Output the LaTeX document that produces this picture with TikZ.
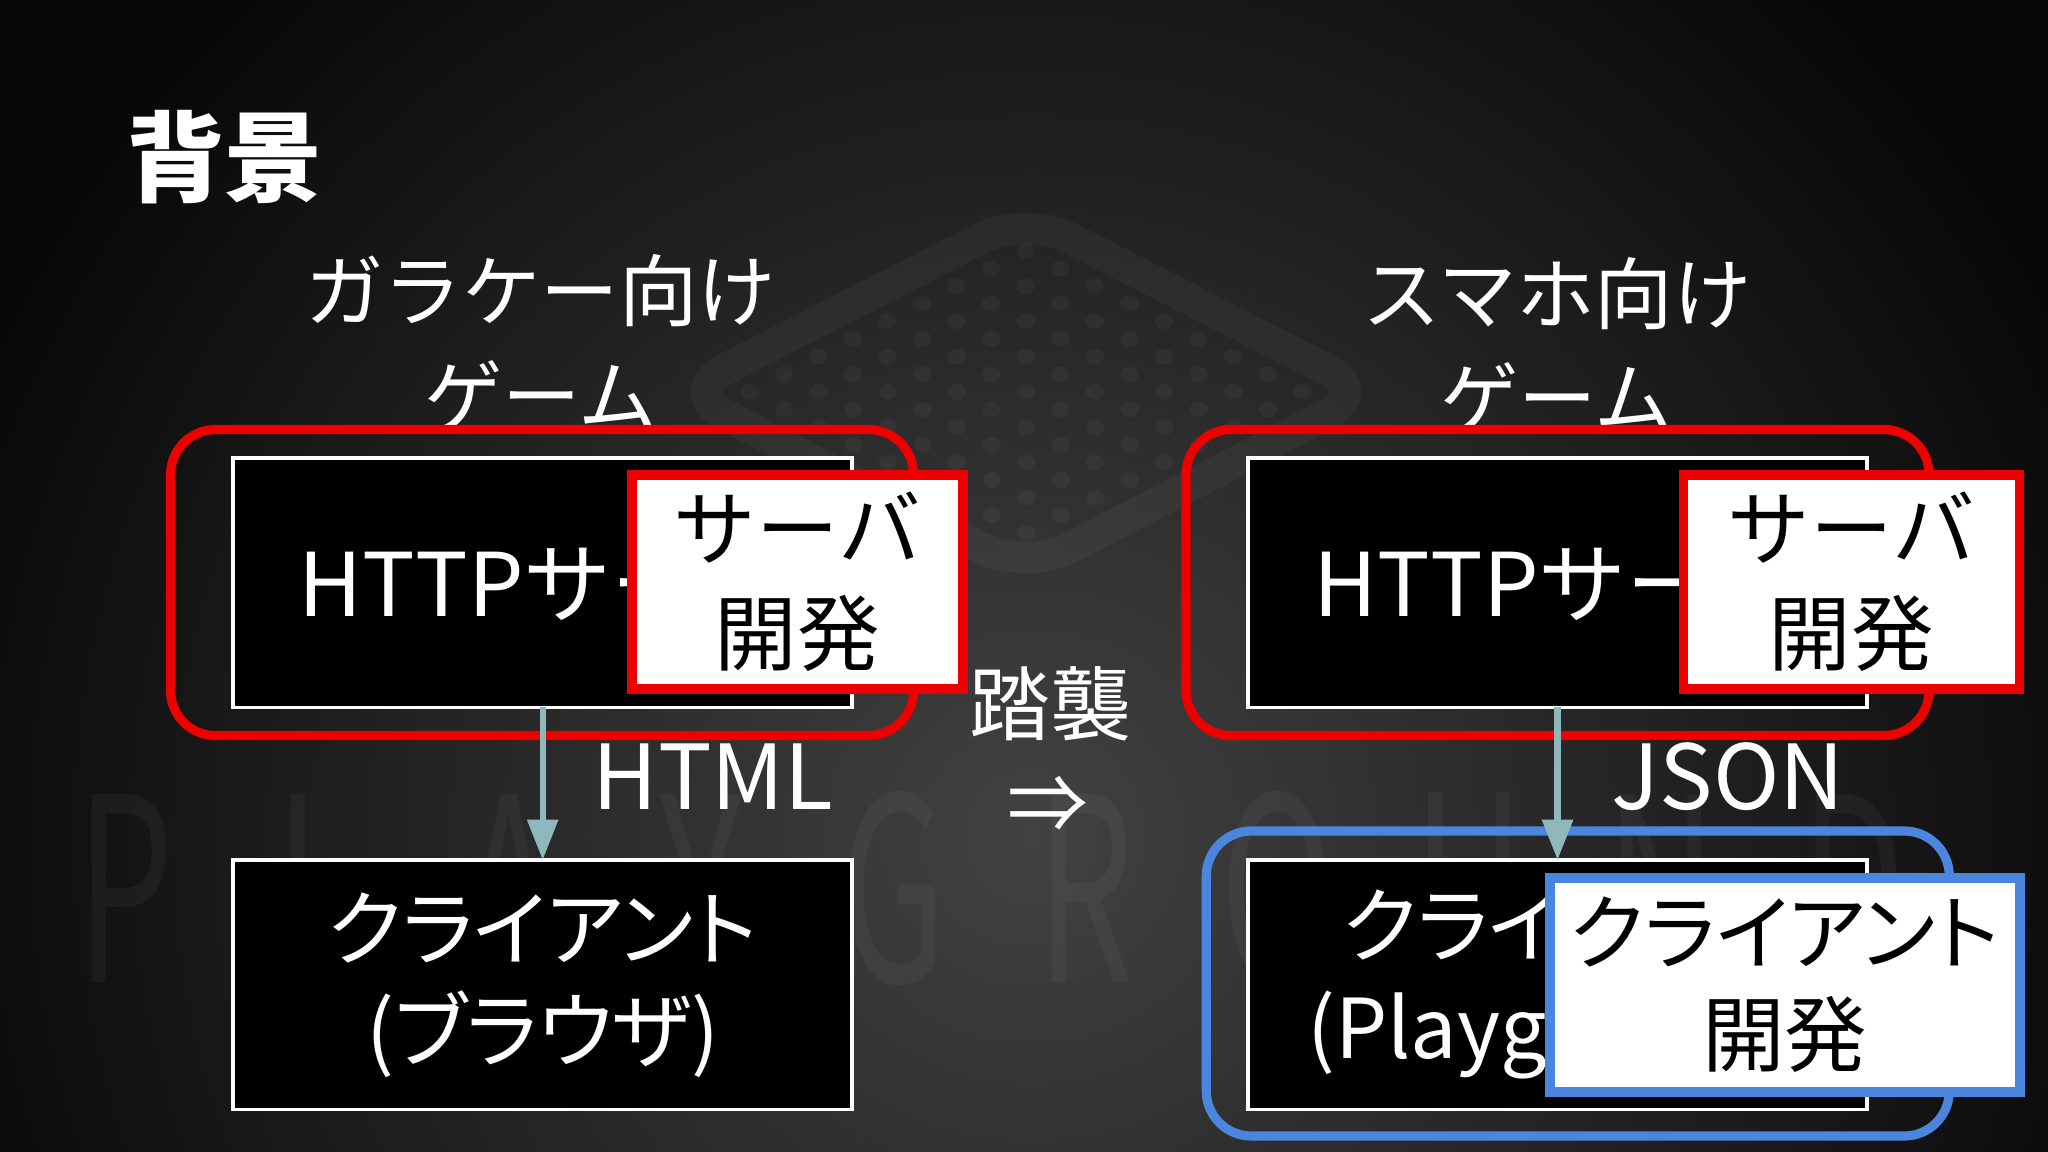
\documentclass[tikz,border=0pt]{standalone}
\usepackage{fontspec}
\setmainfont{Noto Sans CJK JP}
\newfontfamily\jpp{Noto Sans CJK JP}[RawFeature=+palt]
\usetikzlibrary{arrows.meta}
\definecolor{bgdark}{RGB}{8,8,8}
\definecolor{bgmid}{RGB}{66,66,66}
\definecolor{redline}{RGB}{236,0,0}
\definecolor{blueline}{RGB}{74,134,222}
\definecolor{arrowc}{RGB}{143,184,189}
\pgfdeclareradialshading{bgshade}{\pgfpoint{0bp}{0bp}}{color(0bp)=(bgmid); color(25bp)=(bgdark); color(50bp)=(bgdark)}
\begin{document}
\begin{tikzpicture}[x=0.013061cm, y=-0.013061cm,
  every node/.style={inner sep=0pt, outer sep=0pt},
  heading/.style={text=white, font=\fontsize{22.3pt}{29.7pt}\selectfont, align=center},
  titletext/.style={text=white, font=\fontsize{28pt}{32pt}\selectfont\bfseries},
  blackbox/.style={draw=white, fill=black, line width=1pt, minimum width=6.19cm, minimum height=2.495cm, text=white, align=center},
  srvtext/.style={font=\fontsize{25pt}{30pt}\selectfont},
  clitext/.style={font=\jpp\fontsize{23.5pt}{29pt}\selectfont},
  group/.style={draw=#1, line width=2.6pt, rounded corners=0.45cm, minimum width=7.43cm, minimum height=3.06cm},
  devbox/.style={draw=#1, fill=white, line width=2.8pt, text=black, align=center, minimum height=2.14cm},
  flow/.style={draw=arrowc, line width=1.8pt, -{Triangle[length=11.5pt,width=8.5pt]}},
  flowlabel/.style={text=white, font=\fontsize{25.5pt}{30pt}\selectfont},
  midtext/.style={text=white, font=\fontsize{23pt}{28pt}\selectfont},
  wm/.style={text=white, text opacity=0.04, font=\fontsize{73pt}{80pt}\selectfont, xscale=0.6}
]
% background
\fill[bgdark] (0,0) rectangle (1568,882);
\begin{scope}
  \clip (0,0) rectangle (1568,882);
  \shade[shading=bgshade] (790,640) circle (880);
\end{scope}
\useasboundingbox (0,0) rectangle (1568,882);
% watermark logo
\draw[white, opacity=0.035, line width=9pt, rounded corners=0.5cm] (785,165) -- (1050,300) -- (785,437) -- (521,300) -- cycle;
\foreach \s in {1,...,9}{
  \foreach \t in {1,...,9}{
    \fill[white, opacity=0.035] ({785+26.5*\s-26.4*\t},{165+13.5*\s+13.5*\t}) ellipse (7 and 6);
  }
}
\foreach \ch [count=\i from 0] in {P,L,A,Y,G,R,O,U,N,D}{
  \node[wm] (wm\i) at ({96+147*\i},680) {\ch};
}
% title and headings
\node[titletext] (title) at (172,120) {背景};
\node[heading] (headL) at (414,262) {ガラケー向け\\ゲーム};
\node[heading] (headR) at (1192,264) {スマホ向け\\ゲーム};
% black boxes
\node[blackbox, srvtext] (srvL) at (415.5,446) {HTTPサーバ};
\node[blackbox, clitext] (cliL) at (415.5,754) {クライアント\\(ブラウザ)};
\node[blackbox, srvtext] (srvR) at (1192.5,446) {HTTPサーバ};
\node[blackbox, clitext] (cliR) at (1192.5,754) {クライアント\\(Playground)};
% groups
\node[group=redline] (grpL) at (415,446) {};
\node[group=redline] (grpR) at (1192.5,446) {};
\node[group=blueline, minimum height=3.05cm] (grpC) at (1208,753) {};
% dev boxes
\node[devbox=redline, minimum width=3.31cm, font=\fontsize{23.5pt}{29.7pt}\selectfont] (devL) at (610.5,445.5) {サーバ\\開発};
\node[devbox=redline, minimum width=3.36cm, font=\fontsize{23.5pt}{29.7pt}\selectfont] (devR) at (1417.5,445.5) {サーバ\\開発};
\node[devbox=blueline, minimum width=4.70cm, font=\jpp\fontsize{23.5pt}{29pt}\selectfont] (devC) at (1366.5,754) {クライアント\\開発};
% arrows
\draw[flow] (srvL.south) -- (cliL.north);
\draw[flow] (srvR.south) -- (cliR.north);
\node[flowlabel] (lblL) at (546,595) {HTML};
\node[flowlabel] (lblR) at (1323,595) {JSON};
% middle
\node[midtext] (follow) at (804,539) {踏襲};
\node[midtext] (implies) at (802,616) {⇒};
\end{tikzpicture}
\end{document}
